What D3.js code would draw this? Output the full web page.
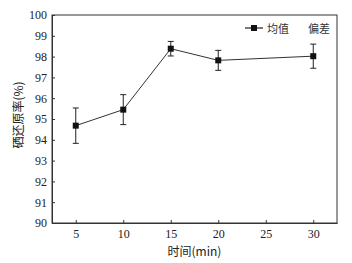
<!DOCTYPE html>
<html>
<head>
<meta charset="utf-8">
<script src="https://cdn.jsdelivr.net/npm/d3@7"></script>
<style>
  body { margin: 0; background: #fff; }
  svg text { fill: #222; }
  svg .tick text { font-family: "Times New Roman", "Liberation Serif", "DejaVu Serif", serif !important; }
  svg text.cjk { font-family: "Noto Sans CJK SC", sans-serif; }
</style>
</head>
<body>
<div id="content"></div>
<script>
var times = [5, 10, 15, 20, 30];
var means = [94.68, 95.45, 98.38, 97.82, 98.02];
var devs = [0.85, 0.72, 0.35, 0.48, 0.58];
var xTicks = [5, 10, 15, 20, 25, 30];
var yTicks = [90, 91, 92, 93, 94, 95, 96, 97, 98, 99, 100];

var width = 352, height = 263;
var margin = { top: 15, right: 15, bottom: 40, left: 52 };

var svg = d3.select('#content').append('svg')
  .attr('width', width).attr('height', height);

var x = d3.scaleLinear().domain([2.5, 32.5]).range([margin.left, width - margin.right]);
var y = d3.scaleLinear().domain([90, 100]).range([height - margin.bottom, margin.top]);

// frame
svg.append('rect')
  .attr('x', margin.left).attr('y', margin.top)
  .attr('width', x.range()[1] - x.range()[0])
  .attr('height', y.range()[0] - y.range()[1])
  .style('fill', 'none').style('stroke', '#333').style('stroke-width', 1);

var xAxis = svg.append('g')
  .attr('transform', 'translate(0,' + (height - margin.bottom) + ')')
  .call(d3.axisBottom(x).tickValues(xTicks).tickSizeInner(-3).tickSizeOuter(0).tickPadding(6));

var yAxis = svg.append('g')
  .attr('transform', 'translate(' + margin.left + ',0)')
  .call(d3.axisLeft(y).tickValues(yTicks).tickSizeInner(-3).tickSizeOuter(0).tickPadding(5));

[xAxis, yAxis].forEach(function(a){
  a.attr('font-family', null).attr('font-size', 12);
  a.select('.domain').style('stroke', '#333');
  a.selectAll('.tick line').style('stroke', '#333');
  a.selectAll('.tick text').style('fill', '#222');
});

// line
var line = d3.line()
  .x(function(d, i){ return x(times[i]); })
  .y(function(d){ return y(d); });

svg.append('path')
  .datum(means)
  .attr('d', line)
  .style('fill', 'none').style('stroke', '#333').style('stroke-width', 1);

// error bars
var err = svg.selectAll('.err').data(means).enter().append('g').attr('class', 'err');
err.append('line')
  .attr('x1', function(d, i){ return x(times[i]); })
  .attr('x2', function(d, i){ return x(times[i]); })
  .attr('y1', function(d, i){ return y(d + devs[i]); })
  .attr('y2', function(d, i){ return y(d - devs[i]); })
  .style('stroke', '#222').style('stroke-width', 1);
err.append('line')
  .attr('x1', function(d, i){ return x(times[i]) - 3; })
  .attr('x2', function(d, i){ return x(times[i]) + 3; })
  .attr('y1', function(d, i){ return y(d + devs[i]); })
  .attr('y2', function(d, i){ return y(d + devs[i]); })
  .style('stroke', '#222').style('stroke-width', 1);
err.append('line')
  .attr('x1', function(d, i){ return x(times[i]) - 3; })
  .attr('x2', function(d, i){ return x(times[i]) + 3; })
  .attr('y1', function(d, i){ return y(d - devs[i]); })
  .attr('y2', function(d, i){ return y(d - devs[i]); })
  .style('stroke', '#222').style('stroke-width', 1);

// markers
svg.selectAll('.pt').data(means).enter().append('rect')
  .attr('class', 'pt')
  .attr('x', function(d, i){ return x(times[i]) - 3; })
  .attr('y', function(d){ return y(d) - 3; })
  .attr('width', 6).attr('height', 6)
  .style('fill', '#111');

// legend
var lg = svg.append('g').attr('transform', 'translate(245,28)');
lg.append('line').attr('x1', 0).attr('x2', 18).attr('y1', 0).attr('y2', 0)
  .style('stroke', '#222').style('stroke-width', 1.2);
lg.append('rect').attr('x', 6).attr('y', -3).attr('width', 6).attr('height', 6).style('fill', '#111');
lg.append('text').attr('class', 'cjk').attr('x', 22).attr('y', 4.5)
  .style('font-size', '11px').style('fill', '#333').text('均值');
lg.append('text').attr('class', 'cjk').attr('x', 63).attr('y', 4.5)
  .style('font-size', '11px').style('fill', '#333').text('偏差');

// axis titles
svg.append('text').attr('class', 'cjk')
  .attr('x', x(17.5)).attr('y', 256)
  .style('text-anchor', 'middle').style('font-size', '12px')
  .text('时间(min)');

svg.append('text').attr('class', 'cjk')
  .attr('transform', 'translate(23,' + 115 + ') rotate(-90)')
  .style('text-anchor', 'middle').style('font-size', '12px')
  .text('硒还原率(%)');
</script>
</body>
</html>
